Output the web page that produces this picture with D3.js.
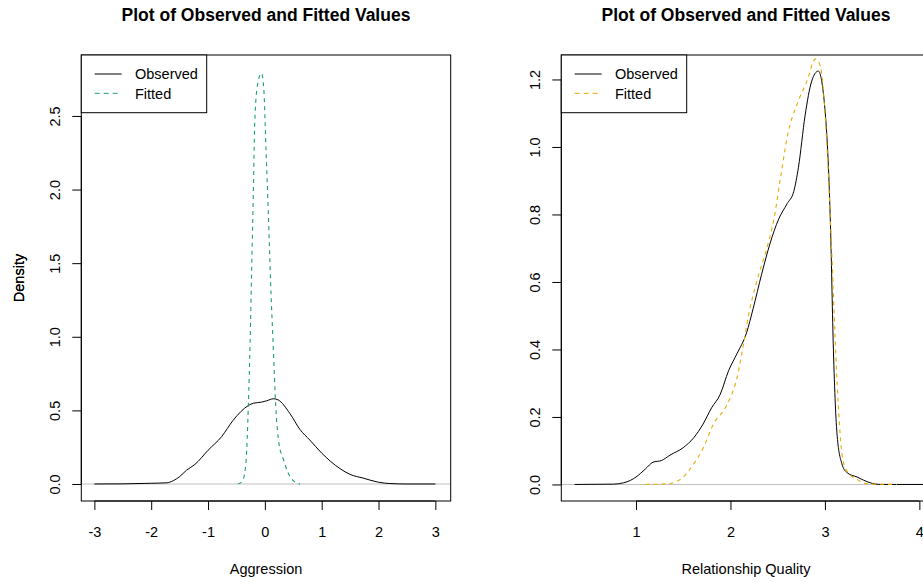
<!DOCTYPE html>
<html>
<head>
<meta charset="utf-8">
<script src="https://cdn.jsdelivr.net/npm/d3@7"></script>
<style>
  body { margin: 0; background: #fff; }
  text { font-family: "Liberation Sans", Arial, sans-serif; fill: #000; }
</style>
</head>
<body>
<div class="core_div"></div>
<script>

// ---------------- data ----------------

// Left panel: Aggression
var aggObsX = [-3.0, -2.5, -2.0, -1.73, -1.61, -1.5, -1.38, -1.23, -1.0, -0.76, -0.56, -0.29, -0.2, -0.06, 0.03, 0.15, 0.23, 0.44, 0.62, 0.79, 1.0, 1.32, 1.5, 1.73, 2.0, 2.2, 2.5, 3.0];
var aggObsY = [0, 0.001, 0.005, 0.008, 0.023, 0.05, 0.093, 0.133, 0.229, 0.322, 0.432, 0.533, 0.549, 0.556, 0.565, 0.579, 0.572, 0.479, 0.369, 0.299, 0.21, 0.105, 0.065, 0.04, 0.012, 0.003, 0, 0];
var aggFitX = [-0.47, -0.39, -0.33, -0.29, -0.26, -0.23, -0.2, -0.18, -0.13, -0.06, -0.02, 0.02, 0.06, 0.1, 0.15, 0.19, 0.25, 0.32, 0.41, 0.5, 0.62];
var aggFitY = [0, 0.023, 0.16, 0.54, 0.96, 1.5, 2.03, 2.43, 2.71, 2.79, 2.69, 2.27, 1.85, 1.38, 0.91, 0.54, 0.27, 0.175, 0.075, 0.023, 0];

// Right panel: Relationship Quality
var rqObsX = [0.35, 0.76, 0.87, 0.94, 1.0, 1.1, 1.18, 1.27, 1.36, 1.5, 1.61, 1.71, 1.8, 1.89, 1.98, 2.07, 2.17, 2.24, 2.33, 2.42, 2.51, 2.6, 2.67, 2.72, 2.79, 2.86, 2.93, 3.0, 3.06, 3.09, 3.13, 3.18, 3.23, 3.34, 3.48, 3.59, 4.1];
var rqObsY = [0, 0.001, 0.005, 0.012, 0.022, 0.046, 0.066, 0.071, 0.087, 0.109, 0.138, 0.179, 0.227, 0.266, 0.337, 0.388, 0.449, 0.521, 0.623, 0.715, 0.786, 0.832, 0.868, 0.94, 1.093, 1.195, 1.225, 1.113, 0.756, 0.398, 0.143, 0.061, 0.036, 0.022, 0.005, 0, 0];
var rqFitX = [1.1, 1.33, 1.47, 1.61, 1.71, 1.82, 1.96, 2.07, 2.14, 2.19, 2.28, 2.39, 2.46, 2.53, 2.61, 2.7, 2.81, 2.9, 2.95, 3.02, 3.07, 3.13, 3.18, 3.23, 3.34, 3.45, 3.76];
var rqFitY = [0, 0.002, 0.015, 0.061, 0.107, 0.179, 0.235, 0.317, 0.419, 0.5, 0.603, 0.705, 0.786, 0.909, 1.042, 1.123, 1.195, 1.261, 1.241, 1.011, 0.705, 0.296, 0.092, 0.041, 0.015, 0.002, 0];

var aggXTicks = [-3, -2, -1, 0, 1, 2, 3];
var aggYTicks = [0, 0.5, 1.0, 1.5, 2.0, 2.5];
var rqXTicks = [1, 2, 3, 4];
var rqYTicks = [0, 0.2, 0.4, 0.6, 0.8, 1.0, 1.2];

var legendLabels = ["Observed", "Fitted"];

// ---------------- layout ----------------

var W = 923, H = 582;
var plotW = 369.4, plotH = 446, plotTop = 55;
var TICK = 9;

var svg = d3.select(".core_div").append("svg")
    .attr("width", W)
    .attr("height", H);

function zip(xs, ys) {
  return xs.map(function(x, i) { return [x, ys[i]]; });
}

function panel(opts) {
  var g = svg.append("g")
      .attr("transform", "translate(" + opts.left + "," + plotTop + ")");

  var x = d3.scaleLinear().domain(opts.xDomain).range([0, plotW]);
  var y = d3.scaleLinear().domain(opts.yDomain).range([plotH, 0]);

  // title
  g.append("text")
      .attr("x", plotW / 2)
      .attr("y", 21 - plotTop)
      .attr("text-anchor", "middle")
      .style("font-size", "17.5px")
      .style("font-weight", "bold")
      .text("Plot of Observed and Fitted Values");

  // zero line in gray
  g.append("line")
      .attr("x1", 0).attr("x2", plotW)
      .attr("y1", y(0)).attr("y2", y(0))
      .style("stroke", "#bebebe")
      .style("stroke-width", 1);

  var line = d3.line()
      .x(function(d) { return x(d[0]); })
      .y(function(d) { return y(d[1]); })
      .curve(d3.curveMonotoneX);

  // observed curve
  g.append("path")
      .attr("d", line(zip(opts.obsX, opts.obsY)))
      .style("fill", "none")
      .style("stroke", "#000")
      .style("stroke-width", 1);

  // fitted curve
  g.append("path")
      .attr("d", line(zip(opts.fitX, opts.fitY)))
      .style("fill", "none")
      .style("stroke", opts.fitColor)
      .style("stroke-width", 1.1)
      .style("stroke-dasharray", "4,4");

  // box around plot region
  g.append("rect")
      .attr("x", 0).attr("y", 0)
      .attr("width", plotW).attr("height", plotH)
      .style("fill", "none")
      .style("stroke", "#000")
      .style("stroke-width", 1);

  // x axis (plain hyphen for negatives, like R)
  var xAxis = d3.axisBottom(x)
      .tickValues(opts.xTicks)
      .tickSizeInner(TICK).tickSizeOuter(0)
      .tickFormat(function(d) { return String(d); });
  var gx = g.append("g")
      .attr("transform", "translate(0," + plotH + ")")
      .call(xAxis);
  gx.select(".domain")
      .attr("d", "M" + x(opts.xTicks[0]) + ",0H" + x(opts.xTicks[opts.xTicks.length - 1]));
  gx.selectAll(".tick text")
      .attr("y", 36).attr("dy", null)
      .attr("font-family", null)
      .style("font-size", "14.5px");

  // y axis, labels rotated like R's default
  var yAxis = d3.axisLeft(y)
      .tickValues(opts.yTicks)
      .tickSizeInner(TICK).tickSizeOuter(0)
      .tickFormat(d3.format(".1f"));
  var gy = g.append("g").call(yAxis);
  gy.select(".domain")
      .attr("d", "M0," + y(opts.yTicks[0]) + "V" + y(opts.yTicks[opts.yTicks.length - 1]));
  gy.selectAll(".tick text")
      .attr("x", null).attr("dy", null)
      .attr("font-family", null)
      .attr("text-anchor", "middle")
      .attr("transform", "translate(-21,0) rotate(-90)")
      .style("font-size", "14.5px");
  svg.selectAll(".tick line, .domain").style("stroke", "#000");

  // axis titles
  g.append("text")
      .attr("x", plotW / 2)
      .attr("y", 574 - plotTop)
      .attr("text-anchor", "middle")
      .style("font-size", "14.5px")
      .text(opts.xLabel);

  g.append("text")
      .attr("transform", "translate(" + (24 - opts.left) + "," + (plotH / 2) + ") rotate(-90)")
      .attr("text-anchor", "middle")
      .style("font-size", "14.5px")
      .text("Density");

  // legend
  var leg = g.append("g");
  leg.append("rect")
      .attr("x", 0).attr("y", 0)
      .attr("width", 125.4).attr("height", 57.7)
      .style("fill", "#fff")
      .style("stroke", "#000")
      .style("stroke-width", 1);

  var rows = leg.selectAll("g.row")
      .data(legendLabels)
    .enter().append("g")
      .attr("class", "row")
      .attr("transform", function(d, i) { return "translate(0," + (19 + i * 19.3) + ")"; });

  rows.append("line")
      .attr("x1", 13.4).attr("x2", 40.4)
      .attr("y1", 0).attr("y2", 0)
      .style("stroke", function(d, i) { return i === 0 ? "#000" : opts.fitColor; })
      .style("stroke-width", 1)
      .style("stroke-dasharray", function(d, i) { return i === 0 ? null : "5,4"; });

  rows.append("text")
      .attr("x", 53.7)
      .attr("dy", "0.36em")
      .style("font-size", "14.5px")
      .text(function(d) { return d; });
}

panel({
  left: 81.3,
  xDomain: [-3.23, 3.27],
  yDomain: [-0.1155, 2.914],
  obsX: aggObsX, obsY: aggObsY,
  fitX: aggFitX, fitY: aggFitY,
  fitColor: "#1b9e77",
  xTicks: aggXTicks, yTicks: aggYTicks,
  xLabel: "Aggression"
});

panel({
  left: 561.3,
  xDomain: [0.209, 4.12],
  yDomain: [-0.049, 1.2725],
  obsX: rqObsX, obsY: rqObsY,
  fitX: rqFitX, fitY: rqFitY,
  fitColor: "#e6ab02",
  xTicks: rqXTicks, yTicks: rqYTicks,
  xLabel: "Relationship Quality"
});

</script>
</body>
</html>
